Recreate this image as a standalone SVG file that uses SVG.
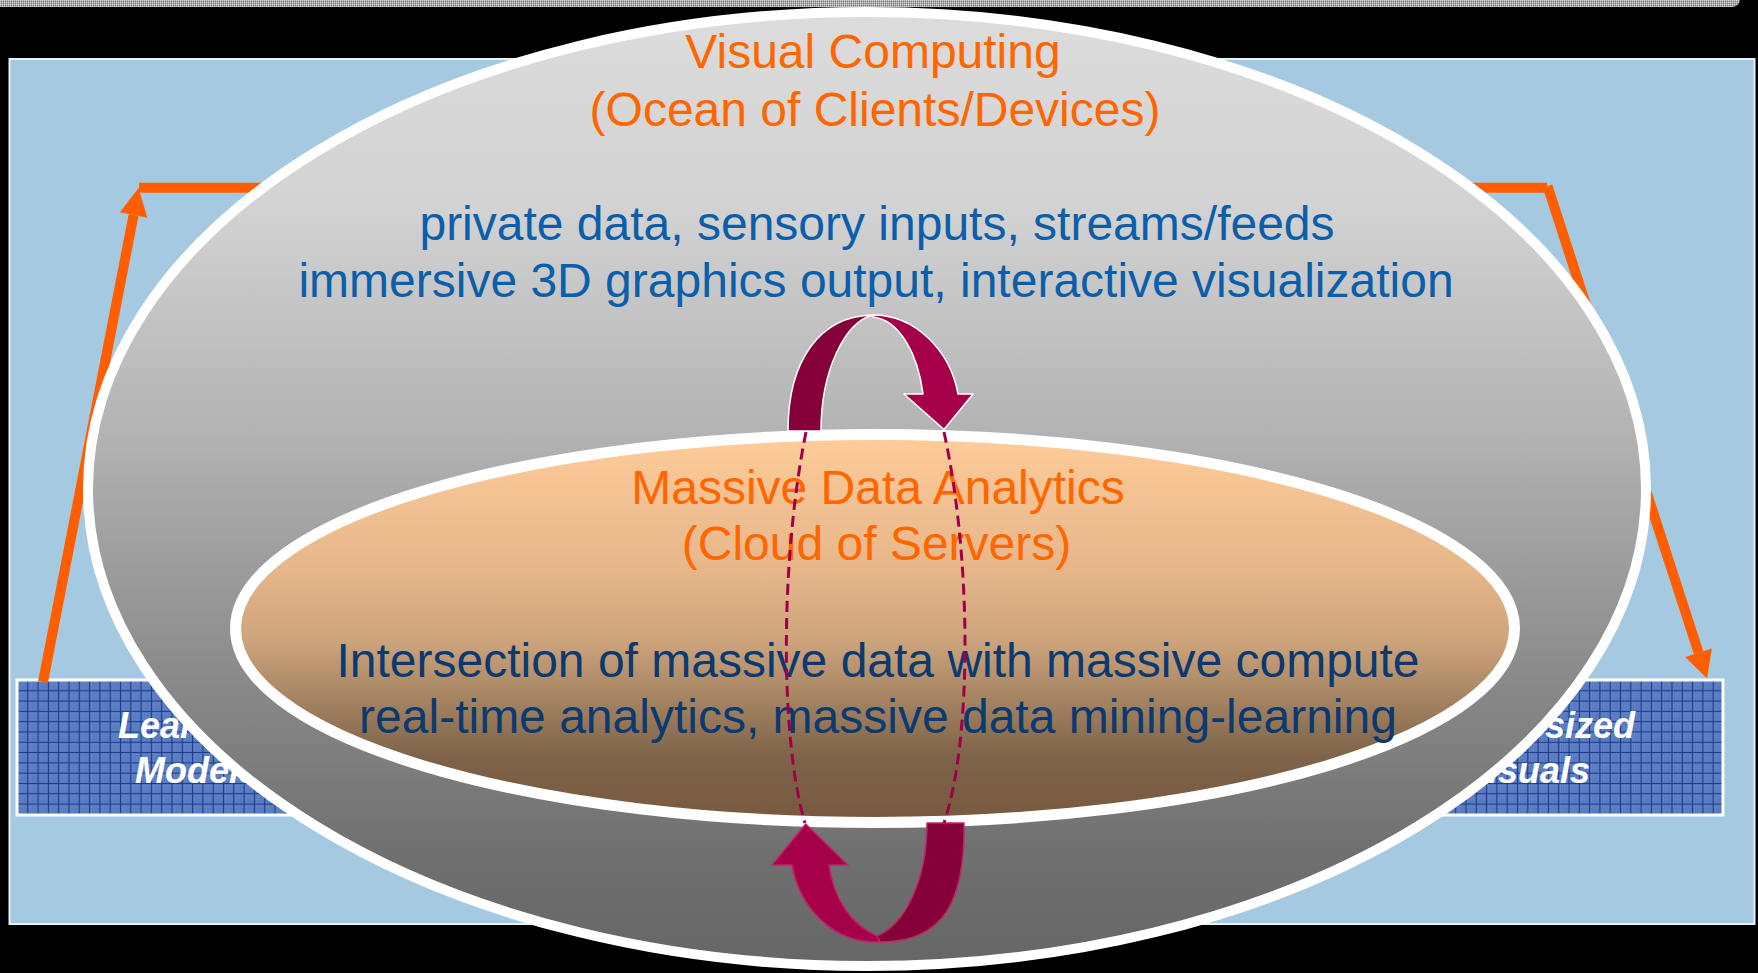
<svg xmlns="http://www.w3.org/2000/svg" width="1758" height="973" viewBox="0 0 1758 973">
  <defs>
    <style>
      .t48 { font-family: "Liberation Sans", Arial, sans-serif; font-size: 48px; text-anchor: middle; }
      .title { fill: #FF6600; }
      .client { fill: #0B5FAA; }
      .server { fill: #0A3A70; }
      .boxtxt { font-family: "Liberation Sans", Arial, sans-serif; font-size: 36px; font-weight: bold; font-style: italic; fill: #FFFFFF; }
      .flow { stroke: #FF5E00; stroke-width: 10; fill: none; }
      .flowhead { fill: #FF5E00; }
      .back { fill: #86003A; }
      .front { fill: #A6004B; }
      .dash { fill: none; stroke: #A0004A; stroke-width: 3; stroke-dasharray: 11 6; }
    </style>
    <!-- fine dither used in the strip along the top edge -->
    <pattern id="stripDots" width="2" height="2" patternUnits="userSpaceOnUse">
      <rect width="2" height="2" fill="#A9A9A9"/>
      <rect width="1" height="1" fill="#D6D6D6"/>
      <rect x="1" y="1" width="1" height="1" fill="#7E7E7E"/>
    </pattern>
    <!-- dithered blue used under the grid of the side boxes -->
    <pattern id="blueDots" width="2" height="2" patternUnits="userSpaceOnUse">
      <rect width="2" height="2" fill="#587AC1"/>
      <rect width="1" height="1" fill="#6C8ED0"/>
      <rect x="1" y="1" width="1" height="1" fill="#4A6BB4"/>
    </pattern>
    <pattern id="gridL" x="17" y="680" width="10.3" height="10.3" patternUnits="userSpaceOnUse">
      <rect width="10.3" height="10.3" fill="url(#blueDots)"/>
      <path d="M0 0.5H10.3M0.5 0V10.3" stroke="#1E3A8C" stroke-width="1"/>
    </pattern>
    <pattern id="gridR" x="1723" y="680" width="10.3" height="10.3" patternUnits="userSpaceOnUse">
      <rect width="10.3" height="10.3" fill="url(#blueDots)"/>
      <path d="M0 0.5H10.3M0.5 0V10.3" stroke="#1E3A8C" stroke-width="1"/>
    </pattern>
    <linearGradient id="clientFill" x1="0" y1="0" x2="0" y2="1">
      <stop offset="0" stop-color="#DCDCDC"/>
      <stop offset="0.2" stop-color="#D3D3D3"/>
      <stop offset="0.44" stop-color="#B3B3B3"/>
      <stop offset="0.71" stop-color="#888888"/>
      <stop offset="0.88" stop-color="#707070"/>
      <stop offset="1" stop-color="#666666"/>
    </linearGradient>
    <linearGradient id="serverFill" x1="0" y1="0" x2="0" y2="1">
      <stop offset="0" stop-color="#FFCC99"/>
      <stop offset="0.35" stop-color="#E6B68A"/>
      <stop offset="0.53" stop-color="#CDA47C"/>
      <stop offset="0.83" stop-color="#7E6348"/>
      <stop offset="1" stop-color="#77593F"/>
    </linearGradient>
  </defs>

  <!-- backdrop -->
  <rect width="1758" height="973" fill="#000000"/>
  <rect x="-10" y="-10" width="1750" height="17" rx="8" fill="url(#stripDots)"/>
  <rect id="panel" x="9.5" y="59" width="1745" height="865" fill="#A6C9E2" stroke="#E8F0F8" stroke-width="2"/>

  <!-- side boxes -->
  <g id="box-left">
    <rect x="17" y="680" width="380" height="135" fill="url(#gridL)" stroke="#FFFFFF" stroke-width="3"/>
    <text class="boxtxt" x="118" y="738">Learning</text>
    <text class="boxtxt" x="135" y="783">Models</text>
  </g>
  <g id="box-right">
    <rect x="1343" y="680" width="380" height="135" fill="url(#gridR)" stroke="#FFFFFF" stroke-width="3"/>
    <text class="boxtxt" x="1635" y="738" text-anchor="end">Synthesized</text>
    <text class="boxtxt" x="1590" y="783" text-anchor="end">Visuals</text>
  </g>

  <!-- orange flow: up from the left box, over the top, down into the right box -->
  <g id="flow-connectors">
    <line class="flow" x1="43" y1="682" x2="133.6" y2="215"/>
    <polygon class="flowhead" points="138.5,188 147.3,217.7 119.9,212.3"/>
    <line class="flow" x1="139" y1="187.7" x2="460" y2="187.7"/>
    <line class="flow" x1="1290" y1="187.7" x2="1547" y2="187.7"/>
    <line class="flow" x1="1547.5" y1="186" x2="1698.6" y2="652.8"/>
    <polygon class="flowhead" points="1707,678.5 1711.9,648.5 1685.3,657.1"/>
  </g>

  <!-- Visual Computing: clients/devices -->
  <g id="visual-computing">
    <ellipse cx="867" cy="489" rx="779" ry="477" fill="url(#clientFill)" stroke="#FFFFFF" stroke-width="10"/>
    <text class="t48 title" x="873" y="68">Visual Computing</text>
    <text class="t48 title" x="875" y="126">(Ocean of Clients/Devices)</text>
    <text class="t48 client" x="877" y="240">private data, sensory inputs, streams/feeds</text>
    <text class="t48 client" x="876" y="297">immersive 3D graphics output, interactive visualization</text>
  </g>

  <!-- Massive Data Analytics: cloud of servers -->
  <g id="data-analytics">
    <ellipse cx="875" cy="628.5" rx="639.5" ry="194" fill="url(#serverFill)" stroke="#FFFFFF" stroke-width="11"/>
    <text class="t48 title" x="878" y="504">Massive Data Analytics</text>
    <text class="t48 title" x="876.5" y="560">(Cloud of Servers)</text>
    <text class="t48 server" x="878" y="677">Intersection of massive data with massive compute</text>
    <text class="t48 server" x="878" y="733">real-time analytics, massive data mining-learning</text>
  </g>

  <!-- exchange loop between clients and servers -->
  <g id="exchange-loop">
    <g stroke="#FFFFFF" stroke-width="1.5" stroke-linejoin="round">
      <path class="back" d="M788 431 C788 360 820 316 873 315 C845 322 821 370 821 431 Z"/>
      <path class="front" d="M873 315 C915 315 950 350 958 394 L973 394 L944 429.5 L904 394 L923 394 C918 355 900 320 873 317 Z"/>
    </g>
    <g stroke="#C0246A" stroke-width="1.5" stroke-linejoin="round">
      <path class="back" d="M927 823 L964 823 C965 900 945 942 880 942 L877 936 C905 925 927 880 927 823 Z"/>
      <path class="front" d="M880 942 C835 944 800 910 792 865 L772 865 L805.7 824 L848 865 L829 865 C834 900 852 925 877 936 Z"/>
    </g>
    <path class="dash" d="M806 432 C780 560 780 740 805 823"/>
    <path class="dash" d="M944 432 C972 560 972 740 944 823"/>
  </g>
</svg>
